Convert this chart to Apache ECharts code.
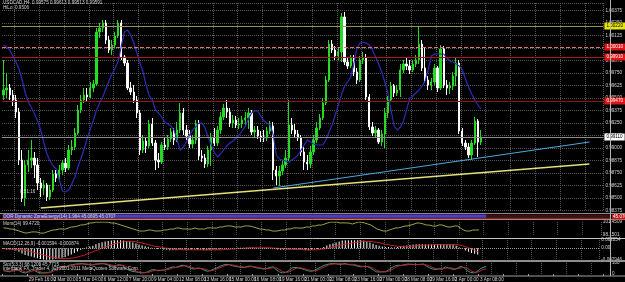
<!DOCTYPE html>
<html>
<head>
<meta charset="utf-8">
<script src="https://cdn.jsdelivr.net/npm/echarts@6/dist/echarts.min.js"></script>
<style>
html, body { margin: 0; padding: 0; background: #000; }
#chart { width: 625px; height: 282px; }
</style>
</head>
<body>
<div id="chart"></div>
<script>
// USDCAD H4 candles: [open, close, low, high]
const candles = [
  [0.9953,0.9958,0.9948,0.9988],[0.9958,0.9960,0.9950,0.9975],[0.9960,0.9953,0.9948,0.9964],[0.9953,0.9948,0.9942,0.9958],
  [0.9948,0.9936,0.9930,0.9953],[0.9936,0.9888,0.9883,0.9940],[0.9888,0.9850,0.9846,0.9898],[0.9850,0.9883,0.9842,0.9888],
  [0.9883,0.9888,0.9876,0.9898],[0.9888,0.9890,0.9880,0.9908],[0.9890,0.9883,0.9870,0.9896],[0.9883,0.9865,0.9858,0.9890],
  [0.9865,0.9860,0.9851,0.9870],[0.9860,0.9863,0.9853,0.9868],[0.9863,0.9851,0.9847,0.9865],[0.9851,0.9858,0.9848,0.9863],
  [0.9858,0.9874,0.9856,0.9878],[0.9874,0.9870,0.9866,0.9878],[0.9870,0.9878,0.9868,0.9883],[0.9878,0.9885,0.9873,0.9888],
  [0.9885,0.9880,0.9876,0.9890],[0.9880,0.9898,0.9878,0.9903],[0.9898,0.9901,0.9893,0.9908],[0.9901,0.9915,0.9898,0.9920],
  [0.9915,0.9938,0.9913,0.9943],[0.9938,0.9948,0.9935,0.9953],[0.9948,0.9953,0.9945,0.9960],[0.9953,0.9951,0.9946,0.9960],
  [0.9951,0.9960,0.9950,0.9966],[0.9960,0.9964,0.9956,0.9968],[0.9964,1.0016,0.9962,1.0020],[1.0016,1.0020,1.0010,1.0025],
  [1.0020,1.0025,1.0016,1.0028],[1.0025,1.0008,1.0004,1.0028],[1.0008,0.9998,0.9995,1.0012],[0.9998,1.0003,0.9993,1.0008],
  [1.0003,1.0012,1.0000,1.0016],[1.0012,1.0025,1.0010,1.0028],[1.0025,0.9991,0.9988,1.0028],[0.9991,0.9985,0.9982,0.9993],
  [0.9985,0.9960,0.9958,0.9988],[0.9960,0.9956,0.9953,0.9966],[0.9956,0.9948,0.9945,0.9963],[0.9948,0.9935,0.9930,0.9952],
  [0.9935,0.9898,0.9893,0.9938],[0.9898,0.9907,0.9895,0.9913],[0.9907,0.9902,0.9895,0.9910],[0.9902,0.9924,0.9900,0.9928],
  [0.9924,0.9905,0.9902,0.9930],[0.9905,0.9888,0.9878,0.9908],[0.9888,0.9886,0.9880,0.9895],[0.9886,0.9903,0.9884,0.9906],
  [0.9903,0.9901,0.9898,0.9910],[0.9901,0.9909,0.9898,0.9913],[0.9909,0.9916,0.9906,0.9920],[0.9916,0.9908,0.9903,0.9920],
  [0.9908,0.9918,0.9906,0.9926],[0.9918,0.9935,0.9915,0.9945],[0.9935,0.9918,0.9913,0.9940],[0.9918,0.9912,0.9908,0.9923],
  [0.9912,0.9904,0.9900,0.9918],[0.9904,0.9908,0.9900,0.9913],[0.9908,0.9924,0.9904,0.9928],[0.9924,0.9892,0.9888,0.9928],
  [0.9892,0.9890,0.9886,0.9898],[0.9890,0.9884,0.9880,0.9894],[0.9884,0.9898,0.9881,0.9902],[0.9898,0.9911,0.9882,0.9915],
  [0.9911,0.9905,0.9902,0.9920],[0.9905,0.9918,0.9902,0.9922],[0.9918,0.9931,0.9914,0.9936],[0.9931,0.9940,0.9928,0.9944],
  [0.9940,0.9936,0.9930,0.9948],[0.9936,0.9925,0.9921,0.9940],[0.9925,0.9928,0.9920,0.9933],[0.9928,0.9923,0.9920,0.9932],
  [0.9923,0.9924,0.9919,0.9930],[0.9924,0.9928,0.9920,0.9932],[0.9928,0.9930,0.9922,0.9936],[0.9930,0.9935,0.9919,0.9940],
  [0.9935,0.9916,0.9913,0.9938],[0.9916,0.9918,0.9911,0.9922],[0.9918,0.9912,0.9909,0.9922],[0.9912,0.9911,0.9906,0.9917],
  [0.9911,0.9910,0.9906,0.9918],[0.9910,0.9917,0.9907,0.9921],[0.9917,0.9922,0.9914,0.9927],[0.9922,0.9878,0.9868,0.9926],
  [0.9878,0.9872,0.9863,0.9882],[0.9872,0.9877,0.9862,0.9882],[0.9877,0.9883,0.9873,0.9888],[0.9883,0.9890,0.9880,0.9898],
  [0.9890,0.9923,0.9887,0.9948],[0.9923,0.9918,0.9914,0.9930],[0.9918,0.9914,0.9910,0.9924],[0.9914,0.9910,0.9907,0.9918],
  [0.9910,0.9896,0.9892,0.9913],[0.9896,0.9886,0.9878,0.9902],[0.9886,0.9884,0.9878,0.9893],[0.9884,0.9896,0.9880,0.9902],
  [0.9896,0.9908,0.9893,0.9913],[0.9908,0.9920,0.9905,0.9926],[0.9920,0.9930,0.9918,0.9934],[0.9930,0.9945,0.9928,0.9950],
  [0.9945,0.9968,0.9943,0.9972],[0.9968,1.0004,0.9966,1.0008],[1.0004,0.9998,0.9995,1.0008],[0.9998,0.9992,0.9988,1.0002],
  [0.9992,0.9996,0.9988,1.0001],[0.9996,1.0031,0.9986,1.0035],[1.0031,0.9986,0.9983,1.0036],[0.9986,0.9982,0.9979,0.9991],
  [0.9982,0.9990,0.9980,0.9993],[0.9990,0.9976,0.9972,0.9993],[0.9976,0.9968,0.9964,0.9980],[0.9968,0.9988,0.9966,0.9992],
  [0.9988,0.9990,0.9984,0.9996],[0.9990,0.9951,0.9948,0.9994],[0.9951,0.9921,0.9918,0.9954],[0.9921,0.9915,0.9912,0.9926],
  [0.9915,0.9918,0.9911,0.9922],[0.9918,0.9906,0.9904,0.9920],[0.9906,0.9914,0.9902,0.9918],[0.9914,0.9935,0.9900,0.9940],
  [0.9935,0.9948,0.9930,0.9952],[0.9948,0.9962,0.9946,0.9966],[0.9962,0.9955,0.9951,0.9964],[0.9955,0.9958,0.9952,0.9963],
  [0.9958,0.9978,0.9951,0.9984],[0.9978,0.9984,0.9975,0.9988],[0.9984,0.9982,0.9978,0.9990],[0.9982,0.9978,0.9974,0.9988],
  [0.9978,0.9984,0.9976,0.9988],[0.9984,0.9988,0.9981,0.9993],[0.9988,1.0004,0.9984,1.0021],[1.0004,0.9980,0.9977,1.0008],
  [0.9980,0.9968,0.9965,1.0001],[0.9968,0.9963,0.9958,0.9972],[0.9963,0.9966,0.9958,0.9970],[0.9966,0.9980,0.9963,0.9984],
  [0.9980,0.9960,0.9956,0.9982],[0.9960,0.9999,0.9958,1.0003],[0.9999,0.9963,0.9960,1.0002],[0.9963,0.9960,0.9953,0.9968],
  [0.9960,0.9962,0.9954,0.9966],[0.9962,0.9972,0.9958,0.9976],[0.9972,0.9985,0.9962,0.9990],[0.9985,0.9917,0.9914,0.9988],
  [0.9917,0.9905,0.9902,0.9920],[0.9905,0.9901,0.9898,0.9908],[0.9901,0.9893,0.9890,0.9905],[0.9893,0.9905,0.9888,0.9908],
  [0.9905,0.9927,0.9903,0.9931],[0.9927,0.9906,0.9891,0.9929],[0.9906,0.9911,0.9903,0.9918]
];

// blue moving average on the price panel
const maLine = [
  1.0003,1.0001,0.9998,0.9992,0.9986,0.9979,0.9968,0.9955,0.9946,0.9940,
  0.9934,0.9927,0.9918,0.9905,0.9894,0.9887,0.9882,0.9879,0.9868,0.9857,
  0.9856,0.9858,0.9864,0.9871,0.9881,0.9890,0.9899,0.9910,0.9919,0.9928,
  0.9938,0.9945,0.9951,0.9959,0.9967,0.9974,0.9980,0.9987,1.0002,1.0016,
  1.0018,1.0013,1.0005,0.9995,0.9985,0.9976,0.9963,0.9952,0.9948,0.9938,
  0.9935,
  0.9931,0.9926,0.9924,0.9922,0.9918,0.9908,0.9898,0.9901,0.9906,0.9913,
  0.9918,0.9921,0.9925,0.9925,0.9920,0.9911,0.9903,0.9896,0.9891,0.9894,
  0.9898,0.9902,0.9905,0.9907,0.9910,0.9913,0.9917,0.9922,0.9929,0.9935,
  0.9937,0.9937,0.9932,0.9927,0.9925,0.9923,0.9913,0.9893,0.9889,0.9888,
  0.9887,0.9886,0.9888,0.9890,0.9893,0.9898,0.9903,0.9908,0.9906,0.9904,
  0.9903,0.9903,0.9903,0.9908,0.9916,0.9923,0.9933,0.9943,0.9953,0.9962,
  0.9966,
  0.9971,0.9984,1.0000,1.0005,1.0006,1.0005,1.0003,0.9998,0.9991,0.9984,
  0.9976,0.9966,0.9955,0.9938,0.9922,0.9918,0.9921,0.9927,0.9938,0.9949,
  0.9952,0.9955,0.9958,0.9962,0.9967,0.9978,0.9992,0.9994,0.9994,0.9994,
  0.9994,0.9990,0.9987,0.9986,0.9984,0.9982,0.9978,0.9969,0.9961,0.9954,0.9948,0.9943,0.9939
];

// Mom(14)
const momLine = [
  99.93,99.90,99.67,99.64,99.42,99.17,98.91,98.66,98.70,98.91,98.95,98.88,98.66,98.62,98.91,
  99.17,99.42,99.45,99.67,99.70,99.64,99.93,100.18,100.22,100.43,100.69,100.72,100.94,101.20,101.24,
  101.45,101.40,101.45,101.42,101.38,101.20,101.16,100.94,100.69,100.43,100.18,99.93,99.67,99.42,99.17,
  99.14,99.20,99.42,99.38,99.17,99.17,99.20,99.42,99.45,99.67,99.64,99.93,99.90,99.67,99.70,
  99.64,99.67,99.93,99.67,99.70,99.64,99.93,99.96,99.93,99.90,100.18,100.20,100.43,100.46,100.40,
  100.18,100.22,100.15,100.43,100.46,100.40,100.18,99.93,99.67,99.64,99.42,99.45,99.17,99.14,99.20,
  99.42,99.40,99.67,99.70,99.93,99.96,99.90,99.93,100.18,100.15,100.43,100.46,100.69,100.66,100.94,
  101.20,101.45,101.42,101.45,101.20,101.24,101.20,101.18,100.94,101.20,101.45,101.40,101.20,100.94,100.69,
  100.18,99.67,99.42,99.17,99.14,99.42,99.67,99.93,99.96,100.18,100.43,100.46,100.69,100.94,101.20,
  101.16,100.94,100.69,100.66,100.43,100.40,100.69,100.72,100.43,100.18,100.20,100.43,100.46,99.93,99.42,
  99.17,99.14,99.42,99.40,99.47
];

// MACD(12,26,9): histogram (main) and signal
const macdMain = [
  -0.0002,-0.0003,-0.0003,-0.0004,-0.0006,-0.0009,-0.0013,-0.0017,-0.0019,-0.0021,-0.0023,
  -0.0025,-0.0027,-0.0028,-0.0029,-0.0029,-0.0028,-0.0027,-0.0026,-0.0024,-0.0022,-0.0019,
  -0.0016,-0.0012,-0.0008,-0.0004,-0.0001,0.0002,0.0004,0.0006,0.0010,0.0013,0.0015,0.0017,
  0.0018,0.0019,0.0020,0.0020,0.0020,0.0019,0.0018,0.0016,0.0014,0.0012,0.0009,0.0007,0.0005,
  0.0003,0.0001,-0.0001,-0.0002,
  -0.0002,-0.0003,-0.0004,-0.0005,-0.0005,-0.0005,-0.0004,-0.0004,-0.0004,-0.0004,-0.0004,
  -0.0003,-0.0003,-0.0004,-0.0005,-0.0005,
  -0.0005,-0.0004,-0.0004,-0.0003,-0.0002,-0.0001,-0.0001,0.0000,0.0000,0.0001,0.0001,0.0001,
  0.0002,0.0002,0.0002,0.0001,0.0001,0.0001,0.0001,0.0001,
  0.0000,-0.0002,-0.0003,-0.0004,-0.0004,-0.0003,-0.0003,-0.0003,-0.0003,-0.0003,-0.0004,-0.0005,
  -0.0005,-0.0004,-0.0003,-0.0002,
  0.0000,0.0003,0.0007,0.0010,0.0012,0.0014,0.0017,0.0019,0.0020,
  0.0020,0.0020,0.0020,0.0020,0.0020,0.0019,0.0017,
  0.0014,0.0011,0.0008,0.0006,0.0004,0.0003,0.0003,0.0002,0.0002,
  0.0003,0.0005,0.0006,0.0007,0.0008,0.0009,0.0010,0.0010,0.0010,0.0009,0.0009,0.0009,0.0009,
  0.0010,0.0010,0.0009,0.0009,0.0009,0.0010,
  0.0006,0.0002,-0.0002,-0.0006,-0.0009,-0.0012,-0.0014,-0.0016
];
const macdSignal = [
  -0.0001,-0.0001,-0.0002,-0.0002,-0.0003,-0.0003,-0.0004,-0.0005,-0.0007,-0.0009,-0.0011,
  -0.0013,-0.0015,-0.0017,-0.0019,-0.0021,-0.0023,-0.0024,-0.0025,-0.0026,-0.0026,
  -0.0026,-0.0025,-0.0024,-0.0022,-0.0020,-0.0018,-0.0015,-0.0012,-0.0009,-0.0006,
  -0.0003,0.0000,0.0003,0.0006,0.0009,0.0011,0.0013,0.0015,0.0016,0.0017,
  0.0017,0.0017,0.0016,0.0015,0.0013,0.0011,0.0009,0.0007,0.0005,0.0004,
  0.0003,0.0001,0.0000,-0.0001,-0.0002,-0.0003,-0.0003,-0.0004,-0.0004,-0.0004,-0.0004,
  -0.0004,-0.0004,-0.0004,-0.0004,-0.0004,-0.0004,-0.0004,-0.0004,-0.0004,-0.0004,
  -0.0003,-0.0003,-0.0002,-0.0002,-0.0001,-0.0001,0.0000,0.0000,0.0001,0.0001,
  0.0001,0.0001,0.0001,0.0001,0.0001,0.0001,0.0000,0.0000,-0.0001,-0.0001,
  -0.0002,-0.0002,-0.0003,-0.0003,-0.0003,-0.0003,-0.0004,-0.0004,-0.0004,-0.0004,
  -0.0004,-0.0003,-0.0002,-0.0001,0.0001,0.0003,0.0005,0.0007,0.0009,0.0010,
  0.0011,0.0013,0.0014,0.0015,0.0016,0.0017,0.0017,0.0017,0.0016,0.0015,0.0014,
  0.0012,0.0010,0.0009,0.0007,0.0006,0.0005,0.0004,0.0004,0.0004,0.0005,
  0.0005,0.0006,0.0007,0.0007,0.0008,0.0008,0.0008,0.0009,0.0009,0.0009,
  0.0009,0.0009,0.0009,0.0009,0.0009,0.0008,0.0006,0.0004,0.0001,-0.0002,-0.0005,-0.0009
];

// Stochastic(5,3,3)
const stoMain = [
  30,25,20,35,45,30,15,10,25,40, 30,15,8,10,12,20,45,55,60,70,
  65,80,85,90,92,95,90,85,80,88, 92,95,94,85,75,70,78,85,75,50,
  35,25,20,15,10,12,20,35,40,30, 32,
  35,45,55,65,60,70,80,75,60,50, 45,55,50,35,25,30,45,55,70,80,
  88,85,75,70,65,60,62,70,72,60, 55,50,45,50,60,65,40,20,10,15,
  30,55,60,55,50,40,30,25,30,45, 60,75,85,92,95,93,88,90,95,85, 83,
  80,70,65,70,68,55,35,20,18,20, 22,40,60,75,80,78,85,90,88,85,
  85,88,90,70,55,45,40,50,45,65, 55,45,42,55,70,55,30,15,10,20,45,60,68
];
const stoSignal = [
  35,30,25,27,33,37,30,18,17,25, 32,28,18,11,10,14,26,40,53,62,
  65,72,77,85,89,92,92,90,85,84, 87,92,94,91,85,77,74,78,79,70,
  53,37,27,20,15,12,14,22,32,35, 35,
  35,37,45,55,60,65,70,75,72,62, 52,50,50,47,37,30,33,43,57,68,
  79,84,83,77,70,65,62,64,68,67, 62,55,50,48,52,58,55,42,23,15,
  18,33,48,57,55,48,40,32,28,33, 45,60,73,84,90,93,92,90,91,89, 88,
  87,78,72,68,68,64,53,37,24,19, 20,27,41,58,72,78,81,84,88,88,
  86,86,88,83,71,57,47,45,45,53, 55,55,47,47,56,60,52,33,18,15,25,42,46
];

// time axis labels, one every 8 bars
const timeLabels = [
  '28 Feb 2012', '29 Feb 16:00', '2 Mar 00:00', '5 Mar 04:00', '6 Mar 12:00',
  '7 Mar 20:00', '9 Mar 04:00', '12 Mar 08:00', '13 Mar 16:00', '15 Mar 00:00',
  '16 Mar 08:00', '19 Mar 16:00', '21 Mar 00:00', '22 Mar 08:00', '23 Mar 16:00',
  '27 Mar 00:00', '28 Mar 08:00', '29 Mar 16:00', '2 Apr 00:00', '3 Apr 08:00'
];

// horizontal price levels and trend lines ([bar index, price])
const levelPrices = [1.0022, 1.0001, 0.9991, 0.9947, 0.9911];
const trendYellow = [[12, 0.9840], [189, 0.9884]];
const trendBlue = [[87, 0.9860], [189, 0.9906]];

const slotCount = 194;
const bars = [];
for (let i = 0; i < slotCount; i++) bars.push(i);

const FONT = "'Liberation Sans', Arial, sans-serif";
const TXT = '#d4d4d4';
const GRIDLINE = { color: '#585858', type: 'dotted', width: 1 };

const levelLine = ['#96964e', '#e07474', '#b41616', '#981414', '#8c8c8c'];
const levelType = ['solid', 'dashed', 'solid', 'solid', 'solid'];
const levelBox = ['#e6e600', '#e01414', '#e01414', '#e01414', '#ffffff'];
const levelText = ['#000000', '#ffffff', '#ffffff', '#ffffff', '#000000'];

const dom = document.getElementById('chart');
const myChart = echarts.init(dom, null, { renderer: 'canvas' });

const grids = [
  { left: 2, top: 3, width: 608, height: 207.5 },
  { left: 2, top: 214.5, width: 608, height: 4.5, show: true, backgroundColor: '#3e1212', borderWidth: 0 },
  { left: 2, top: 222, width: 608, height: 13 },
  { left: 2, top: 240, width: 608, height: 20 },
  { left: 2, top: 263, width: 608, height: 12 }
];

const xAxes = grids.map((g, k) => ({
  type: 'category',
  gridIndex: k,
  data: bars,
  boundaryGap: true,
  axisLine: { show: false },
  axisTick: k === 4
    ? { show: true, interval: (i) => i % 8 === 0, length: 2, lineStyle: { color: '#a0a0a0' } }
    : { show: false },
  axisLabel: k === 4
    ? {
        show: true,
        interval: (i) => i % 8 === 0 && i / 8 < timeLabels.length,
        formatter: (v, i) => timeLabels[i / 8] || '',
        align: 'left',
        color: TXT, fontSize: 4.6, fontFamily: FONT, margin: 3
      }
    : { show: false },
  splitLine: { show: k !== 1, interval: (i) => i % 8 === 4, lineStyle: GRIDLINE }
}));

const sideLabel = { color: TXT, fontSize: 4.6, fontFamily: FONT, margin: 2 };

const yAxes = [
  {
    type: 'value', gridIndex: 0, position: 'right',
    min: 0.98375, max: 1.0045, interval: 0.00125,
    axisLine: { show: false }, axisTick: { show: false },
    axisLabel: Object.assign({ formatter: (v) => v.toFixed(5), showMaxLabel: false }, sideLabel),
    splitLine: { show: true, lineStyle: GRIDLINE }
  },
  { type: 'value', gridIndex: 1, min: 0, max: 1, show: false },
  {
    type: 'value', gridIndex: 2, position: 'right', min: 98.1501, max: 101.4509,
    axisLine: { show: false }, axisTick: { show: false }, splitLine: { show: false },
    axisLabel: Object.assign({ customValues: [98.1501, 101.4509], formatter: (v) => v.toFixed(4) }, sideLabel)
  },
  {
    type: 'value', gridIndex: 3, position: 'right', min: -0.002946, max: 0.002054,
    axisLine: { show: false }, axisTick: { show: false }, splitLine: { show: false },
    axisLabel: Object.assign({
      customValues: [-0.002946, 0, 0.002054],
      formatter: (v) => (Math.abs(v) < 1e-9 ? '0.00' : v.toFixed(6))
    }, sideLabel)
  },
  {
    type: 'value', gridIndex: 4, position: 'right', min: 0, max: 100,
    axisLine: { show: false }, axisTick: { show: false }, splitLine: { show: false },
    axisLabel: Object.assign({ customValues: [0, 100] }, sideLabel)
  }
];

const levelMarks = levelPrices.map((v, k) => ({
  yAxis: v,
  lineStyle: { color: levelLine[k], type: levelType[k], width: 1 },
  label: {
    show: true, position: 'end', distance: 1,
    formatter: (p) => Number(p.value).toFixed(5),
    color: levelText[k], backgroundColor: levelBox[k],
    fontSize: 4.6, fontFamily: FONT, padding: [1, 2]
  }
}));

const trendMarks = [
  [{ coord: trendYellow[0], lineStyle: { color: '#e2e27a', width: 1.3, type: 'solid' } }, { coord: trendYellow[1] }],
  [{ coord: trendBlue[0], lineStyle: { color: '#4aa6dc', width: 1.2, type: 'solid' } }, { coord: trendBlue[1] }]
];

const texts = [
  ['USDCAD,H4  0.99575 0.99613 0.99513 0.99591', 3, 0.5],
  ['HiLo: 0.9506', 3, 5.5],
  ['0:51:16', 20, 189.5],
  ['OOR Dynamic ZoneEnergy(14) 1.964 45.0695 45.0707', 3, 213.8],
  ['Mom(14) 99.4720', 3, 220.8],
  ['MACD(12,26,9) -0.001594 -0.000874', 3, 241.2],
  ['Sto(5,3,3) 68.1209 45.7715', 3, 262.2],
  ['Interbank FX, Trader 4, (C) 2001-2011 MetaQuotes Software Corp.', 3, 266.4]
];

const frame = [
  [0, 213.5, 625, 213.5, '#8c8c8c', 1],
  [0, 219.5, 625, 219.5, '#8c8c8c', 1],
  [0, 238.5, 625, 238.5, '#c8c8c8', 1],
  [0, 261, 625, 261, '#8c8c8c', 2],
  [0, 276, 625, 276, '#a0a0a0', 1],
  [610.5, 0, 610.5, 276, '#b4b4b4', 1]
];

const graphic = frame.map((f) => ({
  type: 'line', z: 50, silent: true,
  shape: { x1: f[0], y1: f[1], x2: f[2], y2: f[3] },
  style: { stroke: f[4], lineWidth: f[5] }
})).concat(texts.map((t) => ({
  type: 'text', left: t[1], top: t[2], z: 60, silent: true,
  style: { text: t[0], fill: TXT, fontSize: 4.6, fontFamily: FONT }
}))).concat([{
  type: 'text', left: 612, top: 214.3, z: 60, silent: true,
  style: { text: '45.0707', fill: '#ffffff', fontSize: 4.6, fontFamily: FONT, backgroundColor: '#d01414', padding: [0, 1] }
}]);

const option = {
  backgroundColor: '#000000',
  animation: false,
  grid: grids,
  xAxis: xAxes,
  yAxis: yAxes,
  graphic: graphic,
  series: [
    {
      name: 'USDCAD', type: 'candlestick', xAxisIndex: 0, yAxisIndex: 0,
      data: candles, barWidth: 1.8,
      itemStyle: { color: '#22dd22', color0: '#ffffff', borderColor: '#22dd22', borderColor0: '#ffffff', borderWidth: 1 },
      markLine: { silent: true, symbol: ['none', 'none'], precision: 5, animation: false, data: levelMarks.concat(trendMarks) }
    },
    {
      name: 'MA', type: 'line', xAxisIndex: 0, yAxisIndex: 0, data: maLine,
      symbol: 'none', lineStyle: { color: '#2d2db8', width: 1.2 }, z: 3
    },
    {
      name: 'OOR', type: 'line', xAxisIndex: 1, yAxisIndex: 1, data: [], symbol: 'none',
      markArea: { silent: true, itemStyle: { color: '#4f3dc4' }, data: [[{ xAxis: 0, yAxis: 0.3 }, { xAxis: 154, yAxis: 1 }]] },
      markLine: { silent: true, symbol: ['none', 'none'], label: { show: false },
        lineStyle: { color: '#a01c1c', type: 'solid', width: 1 }, data: [{ yAxis: 0.15 }] }
    },
    {
      name: 'Mom', type: 'line', xAxisIndex: 2, yAxisIndex: 2, data: momLine,
      symbol: 'none', lineStyle: { color: '#a2a24a', width: 1 }
    },
    {
      name: 'MACD', type: 'bar', xAxisIndex: 3, yAxisIndex: 3, data: macdMain,
      barWidth: 1, itemStyle: { color: '#ffffff' },
      markLine: { silent: true, symbol: ['none', 'none'], label: { show: false }, precision: 6,
        lineStyle: { color: '#9a9a9a', type: 'dotted', width: 1 }, data: [{ yAxis: 0 }] }
    },
    {
      name: 'Signal', type: 'line', xAxisIndex: 3, yAxisIndex: 3, data: macdSignal,
      symbol: 'none', lineStyle: { color: '#c42020', width: 1 }
    },
    {
      name: 'Sto', type: 'line', xAxisIndex: 4, yAxisIndex: 4, data: stoMain,
      symbol: 'none', lineStyle: { color: '#2f9f8a', width: 1 }
    },
    {
      name: 'StoSignal', type: 'line', xAxisIndex: 4, yAxisIndex: 4, data: stoSignal,
      symbol: 'none', lineStyle: { color: '#b82424', width: 1 }
    }
  ]
};

myChart.setOption(option);
</script>
</body>
</html>
